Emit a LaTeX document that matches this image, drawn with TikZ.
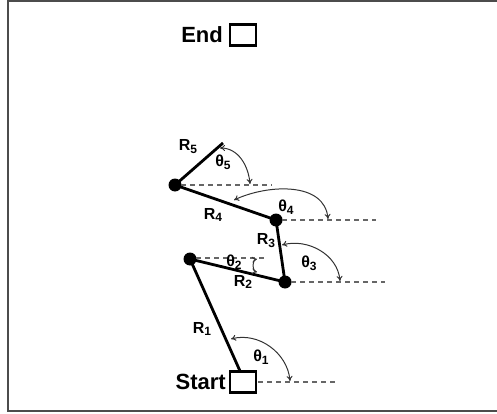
\documentclass[tikz,border=0pt]{standalone}
\usepackage{fontspec}
\setmainfont{Liberation Sans}
\usetikzlibrary{arrows.meta}
\newcommand{\subidx}[1]{\raisebox{-0.35ex}{\fontsize{12}{14}\selectfont #1}}
\begin{document}
\begin{tikzpicture}[x=1pt,y=1pt,
  link/.style={line width=2.8pt,black},
  joint/.style={circle,fill=black,inner sep=0pt,minimum size=13pt},
  refline/.style={gray!80!black,line width=1.2pt,dash pattern=on 5pt off 4pt},
  anglearc/.style={{To[length=5pt,width=6pt]}-{To[length=5pt,width=6pt]},black!80,line width=1pt},
  marker/.style={draw=black,line width=2.4pt,fill=white,inner sep=0pt,minimum width=26pt,minimum height=21pt},
  bigtext/.style={font=\fontsize{22}{26}\selectfont\bfseries,inner sep=0pt},
  lbl/.style={font=\fontsize{16}{19}\selectfont\bfseries,inner sep=0pt},
  frame/.style={gray!60!black,line width=1.8pt}]
\useasboundingbox (0,0) rectangle (497,413);
% outer frame
\draw[frame] (497,412) -- (8,412) -- (8,2) -- (497,2);

% start and end markers
\node[marker] (start) at (243,31) {};
\node[marker] (end) at (243,378) {};
\node[bigtext,anchor=east] (starttxt) at (226,31) {Start};
\node[bigtext,anchor=east] (endtxt) at (223,378) {End};

% joints of the arm
\coordinate (base) at (240,42);
\node[joint] (j1) at (190,154) {};
\node[joint] (j2) at (285,131) {};
\node[joint] (j3) at (276,193) {};
\node[joint] (j4) at (175,228) {};
\coordinate (tip) at (223,270);

% horizontal reference lines
\coordinate (d0a) at (258,31);  \coordinate (d0b) at (338,31);
\coordinate (d1a) at (196,155); \coordinate (d1b) at (265,155);
\coordinate (d2a) at (291,131); \coordinate (d2b) at (385,131);
\coordinate (d3a) at (282,193); \coordinate (d3b) at (376,193);
\coordinate (d4a) at (181,228); \coordinate (d4b) at (272,228);
\draw[refline] (d0a) -- (d0b);
\draw[refline] (d1a) -- (d1b);
\draw[refline] (d2a) -- (d2b);
\draw[refline] (d3a) -- (d3b);
\draw[refline] (d4a) -- (d4b);

% links
\draw[link] (base) -- (j1.center) -- (j2.center) -- (j3.center) -- (j4.center) -- (tip);

% angle arcs
\coordinate (a1s) at (231,74);  \coordinate (a1e) at (290,32);
\coordinate (a2s) at (257,154); \coordinate (a2e) at (257,141);
\coordinate (a3s) at (282,168); \coordinate (a3e) at (340,132);
\coordinate (a4s) at (234,213); \coordinate (a4e) at (328,194);
\coordinate (a5s) at (220,265); \coordinate (a5e) at (250,229);
\draw[anglearc] (a1s) to[out=15,in=95] (a1e);
\draw[anglearc] (a2s) to[bend right=80] (a2e);
\draw[anglearc] (a3s) to[out=15,in=95] (a3e);
\draw[anglearc] (a4s) to[out=25,in=95] (a4e);
\draw[anglearc] (a5s) to[out=0,in=95] (a5e);

% labels
\node[lbl] (lr1) at (202,84)  {R\subidx{1}};
\node[lbl] (lr2) at (243,131) {R\subidx{2}};
\node[lbl] (lr3) at (266,172) {R\subidx{3}};
\node[lbl] (lr4) at (213,198) {R\subidx{4}};
\node[lbl] (lr5) at (188,266) {R\subidx{5}};
\node[lbl] (lt1) at (261,56)  {θ\subidx{1}};
\node[lbl] (lt2) at (234,151) {θ\subidx{2}};
\node[lbl] (lt3) at (309,150) {θ\subidx{3}};
\node[lbl] (lt4) at (286,206) {θ\subidx{4}};
\node[lbl] (lt5) at (223,251) {θ\subidx{5}};
\end{tikzpicture}
\end{document}
